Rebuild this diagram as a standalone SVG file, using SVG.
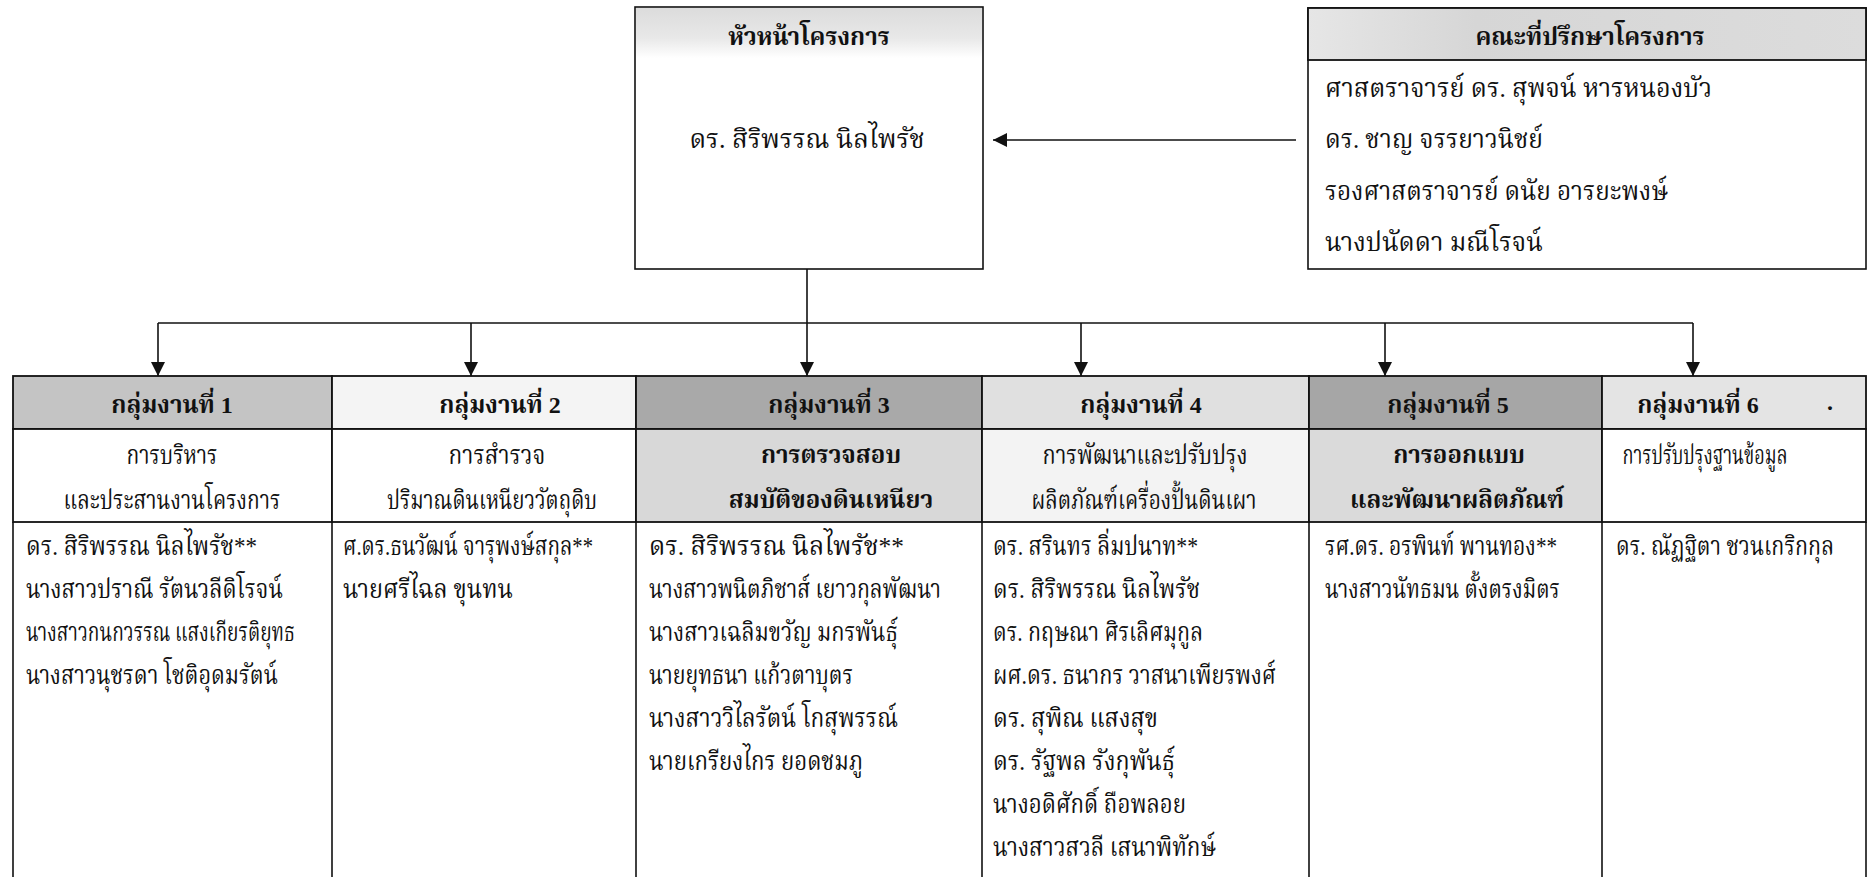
<svg xmlns="http://www.w3.org/2000/svg" width="1870" height="877" viewBox="0 0 1870 877">
<defs>
  <marker id="ah" markerWidth="14" markerHeight="14" refX="14" refY="7" orient="auto" markerUnits="userSpaceOnUse">
    <path d="M0,0 L14,7 L0,14 Z" fill="#111"/>
  </marker>
  <linearGradient id="hg" x1="0" y1="0" x2="0" y2="1">
    <stop offset="0" stop-color="#dcdcdc"/>
    <stop offset="0.6" stop-color="#e8e8e8"/>
    <stop offset="1" stop-color="#ffffff"/>
  </linearGradient>
  <linearGradient id="ag" x1="0" y1="0" x2="1" y2="0">
    <stop offset="0" stop-color="#e6e6e6"/>
    <stop offset="0.3" stop-color="#d6d6d6"/>
    <stop offset="1" stop-color="#dcdcdc"/>
  </linearGradient>
</defs>
<style>
  .h { font-family: "Liberation Serif", "Noto Serif Thai", "Noto Sans Thai", serif; font-weight: bold; font-size: 24px; fill: #111; text-anchor: middle; }
  .s { font-family: "Liberation Serif", "Noto Serif Thai", "Noto Sans Thai", serif; font-weight: normal; font-size: 27px; fill: #111; text-anchor: middle; }
  .c { font-family: "Liberation Serif", "Noto Serif Thai", "Noto Sans Thai", serif; font-size: 27px; fill: #111; text-anchor: middle; }
  .a { font-family: "Liberation Serif", "Noto Serif Thai", "Noto Sans Thai", serif; font-size: 26px; fill: #111; }
  .t { font-family: "Liberation Serif", "Noto Serif Thai", "Noto Sans Thai", serif; font-size: 26px; fill: #111; }
  .box { fill: #ffffff; stroke: #111; stroke-width: 1.6; }
  .ln { stroke: #111; stroke-width: 1.6; fill: none; }
  .cell { stroke: #111; stroke-width: 1.8; }
</style>
<rect width="1870" height="877" fill="#ffffff"/>

<g id="head">
  <rect class="box" x="635" y="7" width="348" height="262"/>
  <rect x="636" y="8" width="346" height="50" fill="url(#hg)"/>
  <text class="h" x="809" y="45">หัวหน้าโครงการ</text>
  <text class="c" x="807" y="148" textLength="235" lengthAdjust="spacingAndGlyphs">ดร. สิริพรรณ นิลไพรัช</text>
</g>

<g id="advisors">
  <rect class="box" x="1308" y="8" width="558" height="261"/>
  <rect class="cell" x="1308" y="8" width="558" height="52" fill="url(#ag)"/>
  <text class="h" x="1590" y="45">คณะที่ปรึกษาโครงการ</text>
  <text class="a" x="1325" y="97" textLength="387" lengthAdjust="spacingAndGlyphs">ศาสตราจารย์ ดร. สุพจน์ หารหนองบัว</text>
  <text class="a" x="1325" y="148" textLength="218" lengthAdjust="spacingAndGlyphs">ดร. ชาญ จรรยาวนิชย์</text>
  <text class="a" x="1325" y="200" textLength="343" lengthAdjust="spacingAndGlyphs">รองศาสตราจารย์ ดนัย อารยะพงษ์</text>
  <text class="a" x="1325" y="251" textLength="218" lengthAdjust="spacingAndGlyphs">นางปนัดดา มณีโรจน์</text>
</g>

<g id="connectors">
  <path class="ln" d="M1296,140 H993" marker-end="url(#ah)"/>
  <path class="ln" d="M807,269 V323"/>
  <path class="ln" d="M158,323 H1693"/>
  <path class="ln" d="M158,323 V376" marker-end="url(#ah)"/>
  <path class="ln" d="M471,323 V376" marker-end="url(#ah)"/>
  <path class="ln" d="M807,323 V376" marker-end="url(#ah)"/>
  <path class="ln" d="M1081,323 V376" marker-end="url(#ah)"/>
  <path class="ln" d="M1385,323 V376" marker-end="url(#ah)"/>
  <path class="ln" d="M1693,323 V376" marker-end="url(#ah)"/>
</g>

<g id="group1">
  <rect class="cell" x="13" y="376" width="319" height="53" fill="#c4c4c4"/>
  <rect class="cell" x="13" y="429" width="319" height="93" fill="#ffffff"/>
  <path class="ln" d="M13,522 V877 M332,522 V877"/>
  <text class="h" x="172" y="413">กลุ่มงานที่ 1</text>
  <text class="s" x="172" y="464" textLength="91" lengthAdjust="spacingAndGlyphs">การบริหาร</text>
  <text class="s" x="172" y="509" textLength="217" lengthAdjust="spacingAndGlyphs">และประสานงานโครงการ</text>
  <text class="t" x="26" y="555" textLength="231" lengthAdjust="spacingAndGlyphs">ดร. สิริพรรณ นิลไพรัช**</text>
  <text class="t" x="26" y="598" textLength="257" lengthAdjust="spacingAndGlyphs">นางสาวปราณี รัตนวลีดิโรจน์</text>
  <text class="t" x="26" y="641" textLength="269" lengthAdjust="spacingAndGlyphs">นางสาวกนกวรรณ แสงเกียรติยุทธ</text>
  <text class="t" x="26" y="684" textLength="252" lengthAdjust="spacingAndGlyphs">นางสาวนุชรดา โชติอุดมรัตน์</text>
</g>

<g id="group2">
  <rect class="cell" x="332" y="376" width="304" height="53" fill="#f4f4f4"/>
  <rect class="cell" x="332" y="429" width="304" height="93" fill="#ffffff"/>
  <path class="ln" d="M636,522 V877"/>
  <text class="h" x="500" y="413">กลุ่มงานที่ 2</text>
  <text class="s" x="497" y="464" textLength="97" lengthAdjust="spacingAndGlyphs">การสำรวจ</text>
  <text class="s" x="492" y="509" textLength="210" lengthAdjust="spacingAndGlyphs">ปริมาณดินเหนียววัตถุดิบ</text>
  <text class="t" x="343" y="555" textLength="250" lengthAdjust="spacingAndGlyphs">ศ.ดร.ธนวัฒน์ จารุพงษ์สกุล**</text>
  <text class="t" x="343" y="598" textLength="170" lengthAdjust="spacingAndGlyphs">นายศรีไฉล ขุนทน</text>
</g>

<g id="group3">
  <rect class="cell" x="636" y="376" width="346" height="53" fill="#a9a9a9"/>
  <rect class="cell" x="636" y="429" width="346" height="93" fill="#d8d8d8"/>
  <path class="ln" d="M982,522 V877"/>
  <text class="h" x="829" y="413">กลุ่มงานที่ 3</text>
  <text class="h" x="831" y="463">การตรวจสอบ</text>
  <text class="h" x="831" y="508">สมบัติของดินเหนียว</text>
  <text class="t" x="649" y="555" textLength="255" lengthAdjust="spacingAndGlyphs">ดร. สิริพรรณ นิลไพรัช**</text>
  <text class="t" x="649" y="598" textLength="292" lengthAdjust="spacingAndGlyphs">นางสาวพนิตภิชาส์ เยาวกุลพัฒนา</text>
  <text class="t" x="649" y="641" textLength="249" lengthAdjust="spacingAndGlyphs">นางสาวเฉลิมขวัญ มกรพันธุ์</text>
  <text class="t" x="649" y="684" textLength="204" lengthAdjust="spacingAndGlyphs">นายยุทธนา แก้วตาบุตร</text>
  <text class="t" x="649" y="727" textLength="249" lengthAdjust="spacingAndGlyphs">นางสาววิไลรัตน์ โกสุพรรณ์</text>
  <text class="t" x="649" y="770" textLength="214" lengthAdjust="spacingAndGlyphs">นายเกรียงไกร ยอดชมภู</text>
</g>

<g id="group4">
  <rect class="cell" x="982" y="376" width="327" height="53" fill="#e0e0e0"/>
  <rect class="cell" x="982" y="429" width="327" height="93" fill="#f3f3f3"/>
  <path class="ln" d="M1309,522 V877"/>
  <text class="h" x="1141" y="413">กลุ่มงานที่ 4</text>
  <text class="s" x="1145" y="464" textLength="205" lengthAdjust="spacingAndGlyphs">การพัฒนาและปรับปรุง</text>
  <text class="s" x="1144" y="509" textLength="225" lengthAdjust="spacingAndGlyphs">ผลิตภัณฑ์เครื่องปั้นดินเผา</text>
  <text class="t" x="993" y="555" textLength="205" lengthAdjust="spacingAndGlyphs">ดร. สรินทร ลิ่มปนาท**</text>
  <text class="t" x="993" y="598" textLength="207" lengthAdjust="spacingAndGlyphs">ดร. สิริพรรณ นิลไพรัช</text>
  <text class="t" x="993" y="641" textLength="210" lengthAdjust="spacingAndGlyphs">ดร. กฤษณา ศิรเลิศมุกูล</text>
  <text class="t" x="993" y="684" textLength="283" lengthAdjust="spacingAndGlyphs">ผศ.ดร. ธนากร วาสนาเพียรพงศ์</text>
  <text class="t" x="993" y="727" textLength="165" lengthAdjust="spacingAndGlyphs">ดร. สุพิณ แสงสุข</text>
  <text class="t" x="993" y="770" textLength="182" lengthAdjust="spacingAndGlyphs">ดร. รัฐพล รังกุพันธุ์</text>
  <text class="t" x="993" y="813" textLength="193" lengthAdjust="spacingAndGlyphs">นางอดิศักดิ์ ถือพลอย</text>
  <text class="t" x="993" y="856" textLength="223" lengthAdjust="spacingAndGlyphs">นางสาวสวลี เสนาพิทักษ์</text>
</g>

<g id="group5">
  <rect class="cell" x="1309" y="376" width="293" height="53" fill="#a6a6a6"/>
  <rect class="cell" x="1309" y="429" width="293" height="93" fill="#dadada"/>
  <path class="ln" d="M1602,522 V877"/>
  <text class="h" x="1448" y="413">กลุ่มงานที่ 5</text>
  <text class="h" x="1459" y="463">การออกแบบ</text>
  <text class="h" x="1457" y="508">และพัฒนาผลิตภัณฑ์</text>
  <text class="t" x="1325" y="555" textLength="232" lengthAdjust="spacingAndGlyphs">รศ.ดร. อรพินท์ พานทอง**</text>
  <text class="t" x="1325" y="598" textLength="235" lengthAdjust="spacingAndGlyphs">นางสาวนัทธมน ตั้งตรงมิตร</text>
</g>

<g id="group6">
  <rect class="cell" x="1602" y="376" width="264" height="53" fill="#e4e4e4"/>
  <rect class="cell" x="1602" y="429" width="264" height="93" fill="#ffffff"/>
  <path class="ln" d="M1866,522 V877"/>
  <text class="h" x="1698" y="413">กลุ่มงานที่ 6</text>
  <text class="h" x="1830" y="410" font-size="16">.</text>
  <text class="s" x="1705" y="464" textLength="165" lengthAdjust="spacingAndGlyphs">การปรับปรุงฐานข้อมูล</text>
  <text class="t" x="1616" y="555" textLength="218" lengthAdjust="spacingAndGlyphs">ดร. ณัฏฐิตา ชวนเกริกกุล</text>
</g>
</svg>
